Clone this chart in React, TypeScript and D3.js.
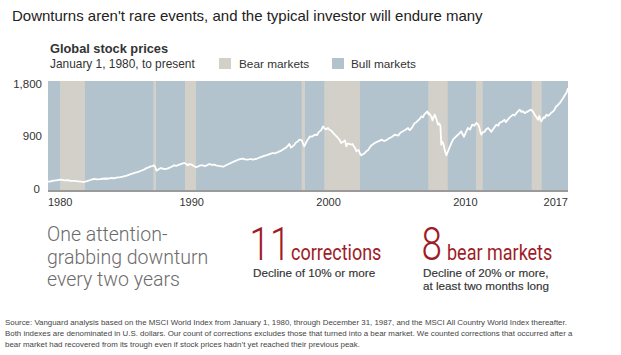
import React from "react";
import * as d3 from "d3";

// ---- Data ----
const priceYears = [
  1980.0, 1980.15, 1980.3, 1980.6, 1980.93, 1981.2, 1981.45, 1981.66, 1981.9, 1982.1, 1982.4, 1982.63,
  1982.9, 1983.1, 1983.36, 1983.6, 1983.8, 1984.0, 1984.2, 1984.4, 1984.58, 1984.8, 1985.0, 1985.3,
  1985.55, 1985.75, 1985.9, 1986.1, 1986.28, 1986.45, 1986.6, 1986.8, 1987.02, 1987.15, 1987.3,
  1987.5, 1987.62, 1987.75, 1987.85, 1987.94, 1988.1, 1988.24, 1988.4, 1988.5, 1988.72, 1988.85,
  1989.0, 1989.21, 1989.4, 1989.6, 1989.8, 1989.96, 1990.1, 1990.21, 1990.35, 1990.5, 1990.65,
  1990.82, 1991.0, 1991.1, 1991.31, 1991.5, 1991.65, 1991.79, 1992.0, 1992.15, 1992.28, 1992.45,
  1992.6, 1992.8, 1993.01, 1993.2, 1993.3, 1993.45, 1993.61, 1993.75, 1993.9, 1994.05, 1994.23,
  1994.4, 1994.6, 1994.8, 1994.96, 1995.1, 1995.3, 1995.5, 1995.69, 1995.85, 1996.0, 1996.2,
  1996.42, 1996.55, 1996.8, 1997.0, 1997.15, 1997.3, 1997.4, 1997.55, 1997.63, 1997.75, 1997.88,
  1998.0, 1998.1, 1998.25, 1998.36, 1998.55, 1998.65, 1998.73, 1998.85, 1998.95, 1999.15, 1999.3,
  1999.49, 1999.65, 1999.8, 1999.95, 2000.1, 2000.2, 2000.3, 2000.46, 2000.6, 2000.7, 2000.85,
  2000.95, 2001.1, 2001.2, 2001.3, 2001.43, 2001.6, 2001.7, 2001.8, 2001.9, 2002.0, 2002.16,
  2002.25, 2002.35, 2002.45, 2002.53, 2002.62, 2002.7, 2002.8, 2002.9, 2003.0, 2003.1, 2003.26,
  2003.4, 2003.5, 2003.65, 2003.87, 2004.0, 2004.1, 2004.25, 2004.36, 2004.5, 2004.6, 2004.8,
  2004.97, 2005.15, 2005.34, 2005.45, 2005.6, 2005.75, 2005.94, 2006.1, 2006.31, 2006.38, 2006.45,
  2006.6, 2006.8, 2006.9, 2007.0, 2007.15, 2007.28, 2007.4, 2007.5, 2007.6, 2007.72, 2007.8,
  2007.85, 2007.95, 2008.01, 2008.1, 2008.15, 2008.26, 2008.4, 2008.5, 2008.6, 2008.68, 2008.74,
  2008.8, 2008.9, 2009.0, 2009.11, 2009.2, 2009.3, 2009.45, 2009.6, 2009.75, 2009.9, 2010.05,
  2010.2, 2010.3, 2010.4, 2010.55, 2010.69, 2010.85, 2011.0, 2011.15, 2011.3, 2011.4, 2011.5,
  2011.6, 2011.67, 2011.75, 2011.9, 2012.0, 2012.16, 2012.3, 2012.4, 2012.55, 2012.76, 2012.9,
  2013.0, 2013.2, 2013.37, 2013.45, 2013.5, 2013.7, 2013.85, 2013.98, 2014.1, 2014.2, 2014.35,
  2014.47, 2014.6, 2014.7, 2014.84, 2015.0, 2015.15, 2015.32, 2015.45, 2015.6, 2015.7, 2015.81,
  2015.9, 2016.0, 2016.05, 2016.15, 2016.2, 2016.3, 2016.42, 2016.5, 2016.6, 2016.75, 2016.91,
  2017.0, 2017.1, 2017.25, 2017.4, 2017.5, 2017.65, 2017.75, 2017.88, 2017.95, 2018.0,
];
const priceValues = [
  140, 138, 150, 160, 170, 160, 164, 150, 152, 145, 138, 132,
  150, 165, 182, 176, 180, 186, 190, 186, 198, 194, 205, 212,
  226, 238, 250, 266, 280, 292, 300, 318, 335, 356, 370,
  391, 396, 408, 372, 319, 345, 363, 352, 345, 352, 366,
  380, 408, 400, 420, 434, 446, 430, 408, 428, 420, 396,
  375, 392, 405, 408, 395, 412, 429, 415, 420, 408, 400,
  395, 385, 408, 430, 440, 455, 473, 486, 500, 510, 517,
  505, 500, 512, 501, 508, 520, 540, 556, 566, 575, 592,
  611, 603, 625, 645, 666, 690, 700, 735, 760, 700, 721,
  745, 780, 800, 831, 820, 760, 721, 780, 820, 886, 880,
  914, 905, 960, 985, 1051, 1020, 1000, 1024, 990, 980, 940,
  914, 880, 860, 830, 776, 800, 820, 721, 770, 760, 748,
  760, 720, 690, 639, 655, 660, 600, 573, 590, 600, 639,
  660, 700, 740, 776, 790, 800, 815, 831, 815, 810, 835,
  859, 880, 914, 905, 900, 945, 969, 990, 1024, 1000, 990,
  1030, 1106, 1115, 1140, 1170, 1216, 1200, 1250, 1270, 1299, 1250,
  1270, 1230, 1216, 1150, 1180, 1244, 1160, 1079, 1100, 1050, 748,
  800, 760, 650, 573, 620, 680, 760, 831, 870, 900, 930,
  969, 920, 880, 960, 1024, 1000, 1080, 1060, 1106, 1090, 1050,
  960, 914, 950, 960, 1000, 1024, 990, 960, 1010, 1079, 1060,
  1110, 1130, 1161, 1120, 1130, 1190, 1220, 1244, 1230, 1260, 1300,
  1326, 1290, 1300, 1271, 1290, 1310, 1326, 1290, 1230, 1200, 1161,
  1220, 1150, 1133, 1170, 1200, 1190, 1244, 1230, 1230, 1270, 1299,
  1320, 1370, 1400, 1436, 1470, 1520, 1560, 1601, 1640, 1684,
];

const bearStarts = [1980.88, 1987.7, 1990.01, 1998.54, 2000.19, 2007.79, 2011.28, 2015.35];
const bearEnds = [1982.7, 1987.89, 1990.82, 1998.78, 2002.8, 2009.21, 2011.77, 2016.08];

const xTickYears = [1980, 1990, 2000, 2010, 2017];
const yTickValues = [0, 900, 1800];
const yTickLabels = ["0", "900", "1,800"];

const title = "Downturns aren't rare events, and the typical investor will endure many";
const chartTitle = "Global stock prices";
const chartSubtitle = "January 1, 1980, to present";
const legendLabels = ["Bear markets", "Bull markets"];
const leftLines = ["One attention-", "grabbing downturn", "every two years"];
const footLines = [
  "Source: Vanguard analysis based on the MSCI World Index from January 1, 1980, through December 31, 1987, and the MSCI All Country World Index thereafter.",
  "Both indexes are denominated in U.S. dollars. Our count of corrections excludes those that turned into a bear market. We counted corrections that occurred after a",
  "bear market had recovered from its trough even if stock prices hadn\u2019t yet reached their previous peak.",
];

const BULL = "#b3c3cd";
const BEAR = "#d3d0ca";
const RED = "#9e1c28";
const SANS = "'Liberation Sans', Arial, Helvetica, sans-serif";
const THIN = "Roboto, 'Liberation Sans', sans-serif";

export default function App() {
  const W = 621;
  const H = 355;
  const x = d3.scaleLinear().domain([1980, 2018]).range([48, 568]);
  const y = d3.scaleLinear().domain([0, 1800]).range([190, 81]);
  const pts = priceYears.map((yr, i) => [yr, priceValues[i]] as [number, number]);
  const line = d3
    .line<[number, number]>()
    .x((d) => x(d[0]))
    .y((d) => y(d[1]))
    .curve(d3.curveLinear);

  return (
    <svg
      width={W}
      height={H}
      style={{ position: "absolute", left: 0, top: 0, display: "block", background: "#fff" }}
    >
      <text x={12} y={21} fontFamily={SANS} fontSize={15} fill="#222">
        {title}
      </text>
      <text x={50} y={53} fontFamily={SANS} fontSize={12.8} fontWeight="bold" fill="#333">
        {chartTitle}
      </text>
      <text x={50} y={68} fontFamily={SANS} fontSize={11.9} fill="#333">
        {chartSubtitle}
      </text>
      <rect x={219} y={58} width={12} height={11} fill={BEAR} />
      <text x={239} y={67.5} fontFamily={SANS} fontSize={11.8} fill="#333">
        {legendLabels[0]}
      </text>
      <rect x={332} y={58} width={12} height={11} fill={BULL} />
      <text x={351} y={67.5} fontFamily={SANS} fontSize={11.8} fill="#333">
        {legendLabels[1]}
      </text>

      {/* plot background (bull) */}
      <rect x={x(1980)} y={y(1800)} width={x(2018) - x(1980)} height={y(0) - y(1800)} fill={BULL} />
      {bearStarts.map((s, i) => (
        <rect
          key={i}
          x={x(s)}
          y={y(1800)}
          width={x(bearEnds[i]) - x(s)}
          height={y(0) - y(1800)}
          fill={BEAR}
        />
      ))}
      <path d={line(pts) || ""} fill="none" stroke="#fff" strokeWidth={1.8} strokeLinejoin="round" />
      <rect x={x(1980)} y={y(0)} width={x(2018) - x(1980)} height={2} fill="#9a9a9a" />

      {yTickValues.map((v, i) => (
        <text
          key={v}
          x={i === 0 ? 40 : 42}
          y={y(v) + (i === 2 ? 6.5 : i === 0 ? 3 : 4)}
          textAnchor="end"
          fontFamily={SANS}
          fontSize={11.5}
          fill="#333"
        >
          {yTickLabels[i]}
        </text>
      ))}
      {xTickYears.map((yr, i) => {
        const first = i === 0;
        const last = i === xTickYears.length - 1;
        const px = first ? x(1980) : last ? x(2018) : x(yr + 0.5);
        return (
          <text
            key={yr}
            x={px}
            y={206}
            textAnchor={first ? "start" : last ? "end" : "middle"}
            fontFamily={SANS}
            fontSize={11}
            fill="#333"
          >
            {yr}
          </text>
        );
      })}

      {leftLines.map((t, i) => (
        <text
          key={t}
          x={47}
          y={241 + i * 22.5}
          fontFamily={THIN}
          fontWeight={300}
          fontSize={19.5}
          fill="#6b6b6b"
        >
          {t}
        </text>
      ))}

      <g transform="translate(249.5,259.5) scale(0.8,1)">
        <text x={0} y={0} fontFamily={THIN} fontWeight={300} fontSize={46} fill={RED}>
          11
        </text>
      </g>
      <g transform="translate(291,259.5) scale(0.8,1)">
        <text x={0} y={0} fontFamily={THIN} fontWeight={400} fontSize={22.5} fill={RED}>
          corrections
        </text>
      </g>
      <text x={253} y={277} fontFamily={SANS} fontSize={11.7} fill="#333" stroke="#333" strokeWidth={0.15}>
        Decline of 10% or more
      </text>

      <g transform="translate(421.5,259.5) scale(0.8,1)">
        <text x={0} y={0} fontFamily={THIN} fontWeight={300} fontSize={46} fill={RED}>
          8
        </text>
      </g>
      <g transform="translate(447,259.5) scale(0.8,1)">
        <text x={0} y={0} fontFamily={THIN} fontWeight={400} fontSize={22.5} fill={RED}>
          bear markets
        </text>
      </g>
      <text x={423} y={277} fontFamily={SANS} fontSize={11.7} fill="#333" stroke="#333" strokeWidth={0.15}>
        Decline of 20% or more,
      </text>
      <text x={423} y={290} fontFamily={SANS} fontSize={11.7} fill="#333" stroke="#333" strokeWidth={0.15}>
        at least two months long
      </text>

      {footLines.map((t, i) => (
        <text key={i} x={5} y={325 + i * 11} fontFamily={SANS} fontSize={7.9} fill="#444">
          {t}
        </text>
      ))}
    </svg>
  );
}
